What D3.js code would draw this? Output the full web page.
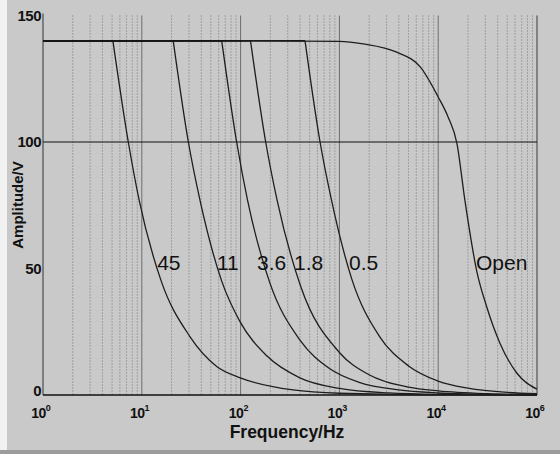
<!DOCTYPE html>
<html><head><meta charset="utf-8">
<script src="https://cdn.jsdelivr.net/npm/d3@7/dist/d3.min.js"></script>
<style>
html,body{margin:0;padding:0;background:#c9c9c9;}
svg{display:block;}
text{font-family:"Liberation Sans",Arial,sans-serif;fill:#111;}
</style></head>
<body><svg id="c" width="560" height="454"></svg>
<script>
// ---- data ----
const yTicks = [0, 50, 100, 150];
const xTickExps = [0, 1, 2, 3, 4, 5];
const xTickLabels = ["0", "1", "2", "3", "4", "6"];
const refLines = [100];

const labels = ["45", "11", "3.6", "1.8", "0.5", "Open"];
const labelFreq = [14.3, 57.7, 146.6, 347, 1250, 24150];

const f45 = [1, 5.1, 7.3, 9.4, 15.6, 30.8, 57.3, 101, 339, 1000, 10000, 100000];
const a45 = [140, 140, 100, 77, 45.4, 23, 11.3, 6.7, 2, 0.7, 0.1, 0];

const f11 = [1, 20.8, 29.6, 38.8, 64.4, 98.6, 184, 398, 1000, 3162, 10000, 100000];
const a11 = [140, 140, 100, 77, 45, 29, 15.5, 6.8, 2.6, 0.8, 0.25, 0];

const f36 = [1, 64.4, 91.2, 117.5, 195, 399, 794, 1585, 3981, 10000, 31623, 100000];
const a36 = [140, 140, 100, 77, 45, 21.7, 10.5, 5, 2, 0.8, 0.25, 0.1];

const f18 = [1, 126, 179.5, 234, 407, 1000, 1995, 5012, 10000, 31623, 100000];
const a18 = [140, 140, 100, 77, 42.8, 16.8, 8, 3.1, 1.6, 0.5, 0.15];

const f05 = [1, 449, 637, 832, 1330, 2512, 5012, 10000, 19953, 50119, 100000];
const a05 = [140, 140, 100, 77, 46, 23.5, 11.5, 5.5, 2.7, 1.0, 0.5];

const fOpen = [1, 100, 1000, 1738, 3802, 6607, 10000, 12589, 15488, 18621, 24547, 30903, 42170, 62373, 100000];
const aOpen = [140, 140, 139.8, 138.8, 135.5, 129.6, 117.8, 109.9, 99.4, 77, 49, 35, 20.5, 8.7, 2.3];

const seriesF = [f45, f11, f36, f18, f05, fOpen];
const seriesA = [a45, a11, a36, a18, a05, aOpen];

// ---- drawing ----
const svg = d3.select("#c");
const W = 560, H = 454;
const L = 43, R = 537, T = 15.5, B = 395;

svg.append("rect").attr("width", W).attr("height", H).attr("fill", "#c9c9c9");
svg.append("rect").attr("x", 0).attr("y", 0).attr("width", 7).attr("height", H).attr("fill", "#f2f2f2");
svg.append("rect").attr("x", 0).attr("y", 450).attr("width", W).attr("height", 4).attr("fill", "#9c9c9c");

const x = d3.scaleLog().domain([1, 1e5]).range([L, R]);
const y = d3.scaleLinear().domain([0, 150]).range([B, T]);

// minor dotted grid
const minor = [];
for (let e = 0; e < 5; e++) for (let m = 2; m <= 9; m++) minor.push(m * Math.pow(10, e));
svg.append("g").selectAll("line").data(minor).join("line")
  .attr("x1", d => x(d)).attr("x2", d => x(d))
  .attr("y1", T).attr("y2", B)
  .attr("stroke", "#6a6a6a").attr("stroke-width", 1)
  .attr("stroke-dasharray", "1 2").attr("opacity", 0.85);

// major decade lines
svg.append("g").selectAll("line").data(xTickExps.slice(1)).join("line")
  .attr("x1", d => x(Math.pow(10, d))).attr("x2", d => x(Math.pow(10, d)))
  .attr("y1", T).attr("y2", B)
  .attr("stroke", (d, i, n) => i === n.length - 1 ? "#3a3a3a" : "#6e6e6e").attr("stroke-width", 1);

// reference line at 100
svg.append("g").selectAll("line").data(refLines).join("line")
  .attr("x1", L).attr("x2", R).attr("y1", d => y(d)).attr("y2", d => y(d))
  .attr("stroke", "#111").attr("stroke-width", 1.1);

// axes lines
svg.append("line").attr("x1", L).attr("x2", L).attr("y1", T - 2).attr("y2", B)
  .attr("stroke", "#333").attr("stroke-width", 1);
svg.append("line").attr("x1", L).attr("x2", R).attr("y1", B).attr("y2", B)
  .attr("stroke", "#111").attr("stroke-width", 1.5);

// curves
const lineLin = d3.line().x(d => x(d[0])).y(d => y(d[1]));
const lineSm = d3.line().x(d => x(d[0])).y(d => y(d[1])).curve(d3.curveMonotoneX);
const gC = svg.append("g").attr("fill", "none");
seriesF.forEach((fs, si) => {
  const pts = fs.map((f, i) => [f, seriesA[si][i]]);
  let k = 0;
  while (k + 1 < pts.length && pts[k + 1][1] === pts[0][1]) k++;
  gC.append("path").attr("d", lineLin(pts.slice(0, k + 1)))
    .attr("stroke", "#151515").attr("stroke-width", 1.4);
  gC.append("path").attr("d", lineSm(pts.slice(k)))
    .attr("stroke", "#1e1e1e").attr("stroke-width", 1.3);
});

// curve labels
svg.append("g").selectAll("text").data(labels).join("text")
  .attr("x", (d, i) => x(labelFreq[i])).attr("y", 270)
  .attr("font-size", 21).text(d => d);

// y tick labels
svg.append("g").selectAll("text").data(yTicks).join("text")
  .attr("x", 41).attr("y", d => y(d) + (d === 0 ? 1 : 5))
  .attr("text-anchor", "end").attr("font-size", 15).attr("font-weight", "bold")
  .attr("letter-spacing", -0.5)
  .text(d => d);

// x tick labels
const xt = svg.append("g").selectAll("text").data(xTickExps).join("text")
  .attr("x", d => x(Math.pow(10, d)) - 2).attr("y", 418)
  .attr("text-anchor", "middle").attr("font-size", 14).attr("font-weight", "bold");
xt.append("tspan").text("10").attr("letter-spacing", -0.5);
xt.append("tspan").attr("dy", -7).attr("font-size", 9).text((d, i) => xTickLabels[i]);

// axis titles
svg.append("text").attr("x", 287).attr("y", 438).attr("text-anchor", "middle")
  .attr("font-size", 17.5).attr("font-weight", "bold").text("Frequency/Hz");
svg.append("text").attr("transform", "translate(23,205) rotate(-90)")
  .attr("text-anchor", "middle").attr("font-size", 15).attr("font-weight", "bold")
  .text("Amplitude/V");
</script></body></html>
